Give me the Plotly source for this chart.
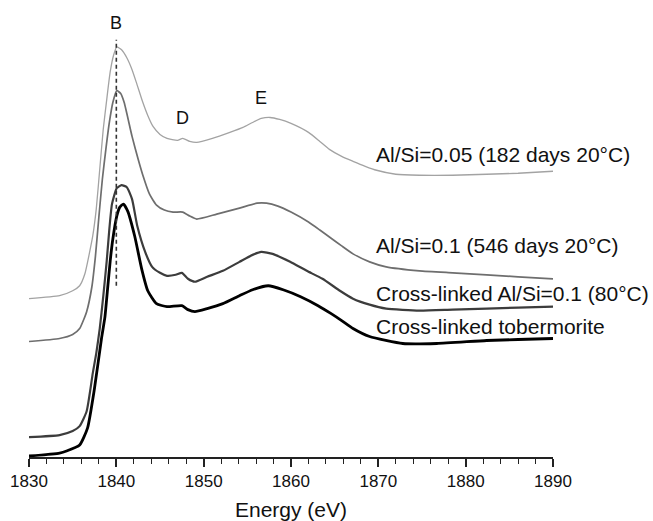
import plotly.graph_objects as go

# ---------------- data (normalized absorbance, offset spectra) ----------------
energy_al005 = [1830.0, 1833.5, 1835.0, 1835.8, 1836.4, 1836.9, 1837.3, 1837.7, 1838.1, 1838.5,
                1838.9, 1839.3, 1839.7, 1840.05, 1840.6, 1841.2, 1841.8, 1842.3, 1843.0, 1843.6,
                1844.2, 1845.0, 1845.8, 1847.0, 1847.6, 1848.4, 1849.2, 1851.0, 1853.0, 1854.5,
                1855.6, 1856.6, 1857.6, 1858.7, 1860.0, 1862.0, 1863.3, 1864.4, 1865.8, 1867.1,
                1868.5, 1869.8, 1872.0, 1874.7, 1878.5, 1882.4, 1886.0, 1890.0]
abs_al005 = [1.59, 1.62, 1.67, 1.72, 1.84, 2.04, 2.22, 2.49, 2.89, 3.29,
             3.59, 3.87, 4.04, 4.12, 4.09, 4.01, 3.89, 3.76, 3.57, 3.43,
             3.32, 3.24, 3.20, 3.18, 3.20, 3.17, 3.16, 3.20, 3.26, 3.31,
             3.36, 3.40, 3.41, 3.39, 3.35, 3.26, 3.17, 3.09, 3.02, 2.97,
             2.92, 2.88, 2.84, 2.83, 2.83, 2.84, 2.85, 2.87]

energy_al01 = [1830.0, 1833.5, 1835.0, 1835.8, 1836.6, 1837.2, 1837.6, 1838.0, 1838.4, 1838.8,
               1839.2, 1839.6, 1840.05, 1840.5, 1840.9, 1841.8, 1842.5, 1843.0, 1843.8, 1844.6,
               1845.5, 1846.5, 1847.6, 1848.4, 1849.2, 1851.5, 1854.1, 1856.1, 1857.2, 1858.5,
               1860.0, 1862.0, 1863.3, 1864.4, 1865.8, 1867.1, 1869.0, 1870.9, 1874.7, 1878.5,
               1882.4, 1886.0, 1890.0]
abs_al01 = [1.16, 1.19, 1.23, 1.29, 1.46, 1.71, 2.01, 2.41, 2.79, 3.09,
            3.36, 3.56, 3.68, 3.65, 3.56, 3.22, 2.99, 2.84, 2.64, 2.53,
            2.48, 2.46, 2.46, 2.42, 2.39, 2.44, 2.50, 2.55, 2.55, 2.52,
            2.46, 2.36, 2.28, 2.21, 2.12, 2.04, 1.96, 1.91, 1.87, 1.85,
            1.83, 1.81, 1.79]

energy_cl_al = [1830.0, 1833.5, 1835.0, 1835.8, 1836.6, 1837.3, 1837.7, 1838.1, 1838.5, 1838.9,
                1839.2, 1839.5, 1840.05, 1840.6, 1841.2, 1841.8, 1842.4, 1843.3, 1844.1, 1845.0,
                1845.8, 1846.8, 1847.5, 1848.2, 1849.0, 1850.4, 1852.2, 1854.1, 1855.6, 1856.6,
                1857.9, 1859.9, 1861.8, 1863.6, 1865.6, 1867.1, 1869.0, 1870.9, 1874.7, 1878.5,
                1882.4, 1886.0, 1890.0]
abs_cl_al = [0.20, 0.22, 0.26, 0.31, 0.46, 0.84, 1.04, 1.29, 1.61, 1.97,
             2.29, 2.54, 2.70, 2.73, 2.71, 2.59, 2.32, 2.06, 1.91, 1.85,
             1.82, 1.83, 1.85, 1.79, 1.76, 1.81, 1.87, 1.96, 2.03, 2.06,
             2.04, 1.96, 1.87, 1.79, 1.67, 1.59, 1.53, 1.49, 1.47, 1.48,
             1.49, 1.50, 1.51]

energy_tob = [1830.0, 1833.5, 1834.3, 1835.8, 1836.7, 1837.5, 1838.3, 1838.7, 1839.0, 1839.3,
              1839.6, 1840.05, 1840.4, 1840.8, 1841.3, 1842.1, 1842.9, 1843.6, 1844.6, 1845.8,
              1847.5, 1848.2, 1849.0, 1850.4, 1852.2, 1854.1, 1855.6, 1857.4, 1859.1, 1861.1,
              1863.1, 1864.6, 1865.8, 1867.1, 1869.0, 1872.8, 1876.7, 1882.4, 1886.0, 1890.0]
abs_tob = [0.01, 0.04, 0.06, 0.12, 0.29, 0.69, 1.19, 1.41, 1.69, 1.97,
           2.19, 2.42, 2.51, 2.54, 2.47, 2.22, 1.89, 1.67, 1.54, 1.51,
           1.52, 1.48, 1.46, 1.49, 1.54, 1.62, 1.68, 1.72, 1.68, 1.61,
           1.52, 1.44, 1.37, 1.29, 1.21, 1.14, 1.14, 1.17, 1.18, 1.19]

series_names = ["Al/Si=0.05 (182 days 20°C)", "Al/Si=0.1 (546 days 20°C)",
                "Cross-linked Al/Si=0.1 (80°C)", "Cross-linked tobermorite"]
label_energy = 1869.5
label_levels = [3.04, 2.12, 1.64, 1.31]

peak_names = ["B", "D", "E"]
peak_energy = [1840.0, 1847.6, 1856.6]
peak_label_levels = [4.36, 3.40, 3.61]

b_line_energy = [1840.0, 1840.0]
b_line_levels = [1.72, 4.19]

x_ticks = [1830, 1840, 1850, 1860, 1870, 1880, 1890]

# ---------------- figure ----------------
FONT = "Liberation Sans, Arial, Helvetica, sans-serif"
fig = go.Figure()

styles = [("#a3a3a3", 1.3), ("#6e6e6e", 1.7), ("#3c3c3c", 2.2), ("#000000", 2.8)]
for (ex, ab), (col, w), name in zip(
        [(energy_al005, abs_al005), (energy_al01, abs_al01),
         (energy_cl_al, abs_cl_al), (energy_tob, abs_tob)], styles, series_names):
    fig.add_trace(go.Scatter(x=ex, y=ab, mode="lines", name=name,
                             line=dict(color=col, width=w, shape="spline", smoothing=0.5),
                             showlegend=False, hoverinfo="skip"))

fig.add_trace(go.Scatter(x=b_line_energy, y=b_line_levels, mode="lines",
                         line=dict(color="#333333", width=1.6, dash="4px,3px"),
                         showlegend=False, hoverinfo="skip"))

for name, lvl in zip(series_names, label_levels):
    fig.add_annotation(x=label_energy, y=lvl, text=name, showarrow=False,
                       xanchor="left", yanchor="middle",
                       font=dict(family=FONT, size=21, color="#111111"))

for name, e, lvl in zip(peak_names, peak_energy, peak_label_levels):
    fig.add_annotation(x=e, y=lvl, text=name, showarrow=False,
                       xanchor="center", yanchor="middle",
                       font=dict(family=FONT, size=18, color="#111111"))

fig.update_layout(
    width=653, height=521,
    margin=dict(l=29, r=100, t=0, b=62),
    paper_bgcolor="white", plot_bgcolor="white",
    font=dict(family=FONT, color="#111111"),
    showlegend=False,
)
fig.update_xaxes(
    range=[1830, 1890], tickvals=x_ticks, ticktext=[str(t) for t in x_ticks],
    showgrid=False, zeroline=False,
    showline=True, linecolor="#222222", linewidth=1.5,
    ticks="outside", ticklen=8, tickwidth=1.5, tickcolor="#222222",
    tickfont=dict(family=FONT, size=17, color="#111111"),
    minor=dict(dtick=2, ticks="outside", ticklen=5, tickwidth=1.2, tickcolor="#222222", showgrid=False),
    title=dict(text="Energy (eV)", font=dict(family=FONT, size=21, color="#111111"), standoff=15),
)
fig.update_yaxes(range=[0, 4.59], visible=False, showgrid=False, zeroline=False)

fig.write_html("out.html", config={"displayModeBar": False},
               post_script="document.body.style.margin='0';document.body.style.overflow='hidden';")
